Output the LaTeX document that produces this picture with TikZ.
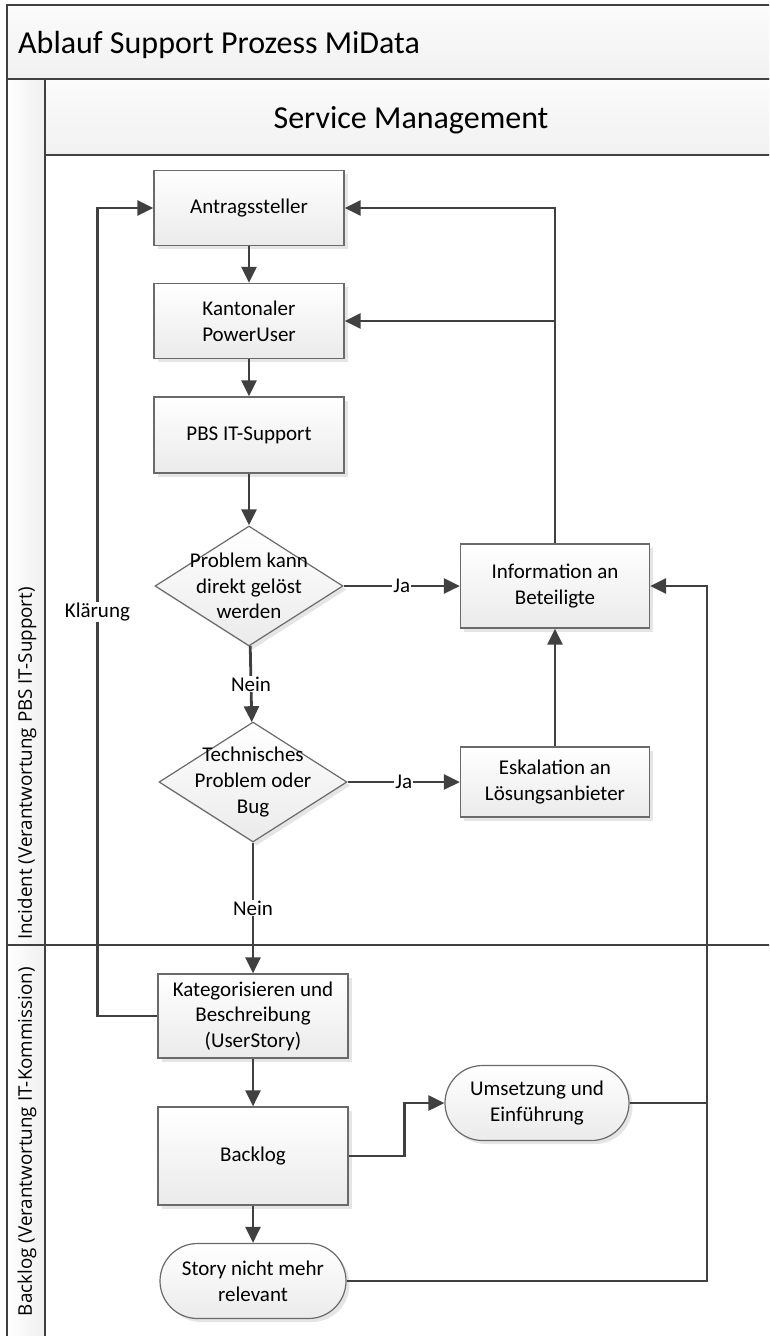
\documentclass[tikz,border=0pt]{standalone}
\usepackage{fontspec}
\setmainfont{Carlito}
\newfontfamily\bahnfont{Open Sans}
\usetikzlibrary{arrows.meta,shapes.geometric,shapes.misc,shadows}

\definecolor{linie}{HTML}{404040}
\definecolor{rand}{HTML}{6A6A6A}

\tikzset{
  rahmenlinie/.style={draw=linie, line width=2.2pt},
  schritt/.style={draw=rand, line width=1.2pt, top color=white, bottom color=black!8,
    minimum width=190pt, minimum height=75pt, align=center, inner sep=2pt,
    font=\fontsize{21}{25.6}\selectfont,
    drop shadow={shadow xshift=3.5pt, shadow yshift=-3.5pt, fill=black!25, opacity=0.4}},
  abschluss/.style={schritt, rounded rectangle},
  entscheidung/.style={schritt, diamond, minimum width=188pt, minimum height=120pt, inner sep=0pt},
  inhalt/.style={align=center, font=\fontsize{21}{25.6}\selectfont},
  marke/.style={fill=white, inner sep=1pt, font=\fontsize{21}{25.6}\selectfont},
  titel/.style={inner sep=0pt, font=\fontsize{32}{38}\selectfont},
  bahn/.style={inner sep=0pt, font=\bahnfont\fontsize{18.8}{22}\selectfont},
  pfeil/.style={draw=linie, line width=2.8pt, -{Triangle[length=16pt,width=15pt]}},
  verbindung/.style={draw=linie, line width=2.8pt}
}

\begin{document}
\begin{tikzpicture}[x=1pt,y=-1pt]
\useasboundingbox (0,0) rectangle (769,1336);
\clip (0,0) rectangle (769,1336);

% Pool und Bahnen
\draw[rahmenlinie, top color=gray!3, bottom color=gray!11] (7,5) rectangle (790,79);
\draw[rahmenlinie, top color=gray!3, bottom color=gray!11] (45,79) rectangle (790,155);
\draw[rahmenlinie, left color=white, right color=gray!12] (7,79) rectangle (45,1360);
\draw[rahmenlinie] (7,945) -- (790,945);

\node[titel, anchor=base west] (prozess) at (18,53) {Ablauf Support Prozess MiData};
\node[titel, anchor=base] (pool) at (411,128) {Service Management};
\node[bahn, rotate=90, anchor=east] (incident) at (27,587) {Incident (Verantwortung PBS IT-Support)};
\node[bahn, rotate=90, anchor=east] (backlogbahn) at (27,967) {Backlog (Verantwortung IT-Kommission)};

% Schritte
\node[schritt] (antrag) at (249,208) {Antragssteller};
\node[schritt] (poweruser) at (249,321) {Kantonaler\\PowerUser};
\node[schritt, minimum height=76pt] (itsupport) at (249,435) {PBS IT-Support};
\node[entscheidung, label={[inhalt]center:{Problem kann\\direkt gelöst\\werden}}] (loesbar) at (249,586) {};
\node[entscheidung, label={[inhalt]center:{Technisches\\Problem oder\\Bug}}] (technisch) at (253,782) {};
\node[schritt, minimum width=189pt, minimum height=84pt] (info) at (555,586) {Information an\\Beteiligte};
\node[schritt, minimum width=189pt, minimum height=70pt] (eskalation) at (555,782) {Eskalation an\\Lösungsanbieter};
\node[schritt, minimum height=84pt] (kategorie) at (253,1016) {Kategorisieren und\\Beschreibung\\(UserStory)};
\node[schritt, minimum height=98pt] (backlog) at (253,1156) {Backlog};
\node[abschluss, minimum width=188pt] (umsetzung) at (537,1103) {Umsetzung und\\Einführung};
\node[abschluss] (irrelevant) at (253,1281) {Story nicht mehr\\relevant};
\coordinate (rueck) at (707,1281);

% Verbindungen
\draw[pfeil] (antrag) -- (poweruser);
\draw[pfeil] (poweruser) -- (itsupport);
\draw[pfeil] (itsupport) -- (loesbar);
\draw[pfeil] (loesbar) -- node[marke]{Ja} (info);
\draw[pfeil] (loesbar) -- node[marke]{Nein} (technisch);
\draw[pfeil] (technisch) -- node[marke]{Ja} (eskalation);
\draw[pfeil] (technisch) -- node[marke]{Nein} (kategorie);
\draw[pfeil] (eskalation) -- (info);
\draw[pfeil] (info.north) |- (antrag.east);
\draw[pfeil] (info.north |- poweruser.east) -- (poweruser.east);
\draw[pfeil] (kategorie.west) -- ++(-60,0) |- node[marke, pos=0.25]{Klärung} (antrag.west);
\draw[pfeil] (kategorie) -- (backlog);
\draw[pfeil] (backlog) -- (irrelevant);
\draw[pfeil] (backlog.east) -- ++(56,0) |- (umsetzung.west);
\draw[pfeil] (irrelevant.east) -- (rueck) |- (info.east);
\draw[verbindung] (umsetzung.east) -- (umsetzung.east -| rueck);
\end{tikzpicture}
\end{document}
